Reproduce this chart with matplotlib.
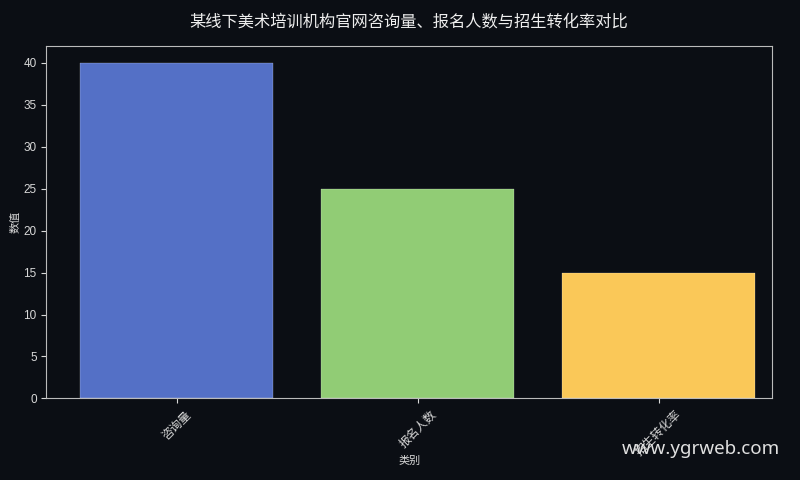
import matplotlib
matplotlib.use('Agg')
import matplotlib.pyplot as plt

plt.rcParams['font.family'] = ['Liberation Sans', 'Noto Sans CJK SC', 'DejaVu Sans']
plt.rcParams['axes.unicode_minus'] = False

categories = ['咨询量', '报名人数', '招生转化率']
values = [40, 25, 15]
colors = ['#5470c6', '#91cc75', '#fac858']

bg = '#0b0e14'
fg = '#d8d8d8'

fig, ax = plt.subplots(figsize=(8, 4.8), dpi=100)
fig.patch.set_facecolor(bg)
ax.set_facecolor(bg)

ax.bar(categories, values, color=colors, width=0.8, edgecolor='#ffffff', linewidth=0.15)

ax.set_xlim(-0.54, 2.47)
ax.set_ylim(0, 42)
ax.set_yticks(range(0, 41, 5))

ax.set_title('某线下美术培训机构官网咨询量、报名人数与招生转化率对比',
             color='#eeeeee', fontsize=11.7, pad=14, family=['Noto Sans CJK SC', 'DejaVu Sans'])
ax.set_xlabel('类别', color=fg, fontsize=8, labelpad=-2, family=['Noto Sans CJK SC'])
ax.set_ylabel('数值', color=fg, fontsize=8, labelpad=2, family=['Noto Sans CJK SC'])

ax.tick_params(colors=fg, labelsize=8.5)
plt.setp(ax.get_xticklabels(), rotation=45, family=['Noto Sans CJK SC'])
for s in ax.spines.values():
    s.set_color('#bbbbbb')

fig.text(0.975, 0.065, 'www.ygrweb.com', color='#e0e0e0', fontsize=13.5, ha='right', va='center',
         family=['Noto Sans', 'DejaVu Sans'])

plt.subplots_adjust(left=0.058, right=0.965, top=0.904, bottom=0.17)
fig.savefig('out.png', dpi=100, facecolor=bg)
